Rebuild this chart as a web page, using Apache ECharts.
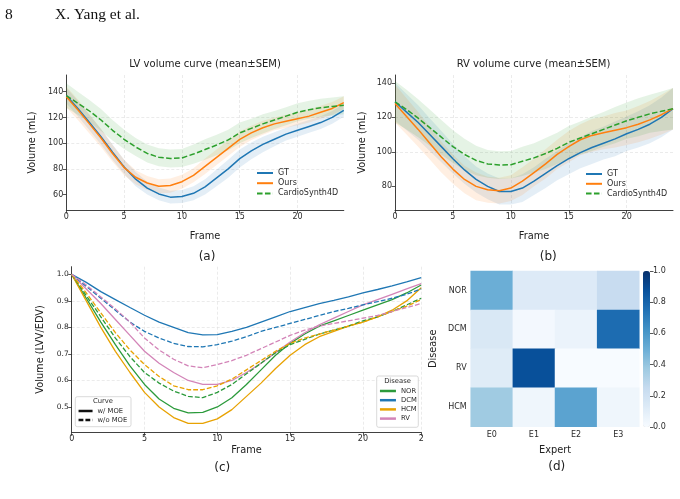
<!DOCTYPE html>
<html>
<head>
<meta charset="utf-8">
<script src="https://cdn.jsdelivr.net/npm/echarts@6/dist/echarts.min.js"></script>
<style>
html, body { margin: 0; padding: 0; background: #fff; }
#fig { width: 680px; height: 499px; }
</style>
</head>
<body>
<div id="fig"></div>
<script>
// frames 0..24
var frames = [0,1,2,3,4,5,6,7,8,9,10,11,12,13,14,15,16,17,18,19,20,21,22,23,24];

// (a) LV volume, mean and SEM
var lvGT        = [137,127,116,105,93,81.5,72,65,60.5,58,58.5,61,66,73,80,88,94,99,103,107,110,113,116,120,125.5];
var lvGTsem     = [6,6,6,6,6,5.5,5.5,5,5,5,5,5.5,6,6.5,7,7,6.5,6,5.5,5,5,5,5,5,5];
var lvOurs      = [136,126,115,104,92,81,73.5,69,66.5,67,70,75,82,89,96,103,108,112,115,117,119,121,124,127,131.5];
var lvOursSem   = [8,8,7.5,7,6.5,6,5.5,5.5,5.5,5.5,5.5,5.5,6,6,6,6,5.5,5.5,5,5,5,5,5,5,5];
var lvCardio    = [137,131,125,118,110,103,97,92,89,88,88.5,91.5,95,98.5,102.5,108,111.5,115,118,121,124,126,127.5,128.5,129.5];
var lvCardioSem = [9.5,9,8.5,8.5,8,7.5,7,7,7,7,7,7.5,8,8,8,8,7.5,7.5,7,7,7,7,7,7,7];

// (b) RV volume, mean and SEM
var rvGT        = [129,123,117,110,103,96,89.5,84,80,77,77,79,83,87.5,92,96,99.5,102.5,105,107.5,110.5,113,116,120,125];
var rvGTsem     = [11,10.5,10,9.5,9,8.5,8,7.5,7.5,7.5,7.5,8,8,8.5,8.5,9,9,9.5,9.5,10,10,10.5,11,11.5,12];
var rvOurs      = [128,120.5,113,105,97,90,84,80,78,77.5,79,83,88,93,98.5,103,107,109.5,111,112.5,114,116,118.5,121.5,125];
var rvOursSem   = [11,10.5,10,9.5,9,8.5,8,8,7.5,7.5,7.5,8,8,8.5,8.5,9,9,9.5,9.5,10,10,10.5,11,11.5,12];
var rvCardio    = [129,124.5,119.5,114,108.5,103,98.5,95,93,92.3,92.5,94.5,96.5,99,102,105.5,108,110.5,113,115.5,118,120,122,123.5,125];
var rvCardioSem = [12,11.5,11,10.5,10,9.5,9,8.5,8,8,8,8.5,8.5,9,9,9.5,9.5,10,10,10.5,10.5,11,11,11.5,12];

// (c) normalised volume per disease, with / without MOE
var norW  = [1.0,0.91,0.82,0.735,0.655,0.585,0.53,0.495,0.478,0.48,0.5,0.535,0.585,0.64,0.695,0.74,0.775,0.805,0.825,0.845,0.865,0.885,0.905,0.93,0.96];
var norWo = [1.0,0.92,0.84,0.76,0.69,0.63,0.59,0.56,0.54,0.535,0.555,0.585,0.625,0.665,0.705,0.735,0.755,0.775,0.79,0.805,0.825,0.84,0.86,0.885,0.91];
var dcmW  = [1.0,0.97,0.935,0.905,0.875,0.846,0.82,0.8,0.78,0.772,0.773,0.785,0.8,0.82,0.84,0.86,0.875,0.89,0.902,0.915,0.93,0.943,0.957,0.972,0.988];
var dcmWo = [1.0,0.955,0.91,0.865,0.82,0.785,0.76,0.74,0.728,0.727,0.735,0.748,0.765,0.785,0.8,0.815,0.83,0.845,0.86,0.872,0.885,0.897,0.91,0.925,0.945];
var hcmW  = [1.0,0.9,0.8,0.71,0.63,0.555,0.5,0.46,0.438,0.438,0.455,0.49,0.54,0.59,0.645,0.695,0.735,0.765,0.785,0.805,0.82,0.84,0.865,0.9,0.95];
var hcmWo = [1.0,0.93,0.855,0.78,0.715,0.66,0.615,0.58,0.565,0.565,0.58,0.605,0.64,0.675,0.71,0.74,0.76,0.775,0.79,0.805,0.82,0.84,0.86,0.88,0.905];
var rvW   = [1.0,0.945,0.89,0.83,0.77,0.71,0.665,0.63,0.6,0.585,0.585,0.6,0.63,0.665,0.705,0.745,0.78,0.81,0.835,0.86,0.885,0.905,0.925,0.945,0.965];
var rvWo  = [1.0,0.96,0.915,0.87,0.82,0.76,0.715,0.68,0.655,0.648,0.66,0.675,0.695,0.72,0.745,0.77,0.79,0.805,0.815,0.825,0.835,0.845,0.86,0.875,0.89];

// (d) expert weights per disease
var experts  = ['E0','E1','E2','E3'];
var diseases = ['NOR','DCM','RV','HCM'];
var weights  = [
    [0.50,0.13,0.13,0.24],
    [0.15,0.02,0.06,0.77],
    [0.12,0.88,0.00,0.00],
    [0.37,0.04,0.55,0.04]
];

// tick labels
var frameTicks  = [0,5,10,15,20];
var frameTicksC = [0,5,10,15,20,24];
var lvTicks     = [60,80,100,120,140];
var rvTicks     = [80,100,120,140];
var ratioTicks  = [0.5,0.6,0.7,0.8,0.9,1.0];

var blues = ['#f7fbff','#deebf7','#c6dbef','#9ecae1','#6baed6','#4292c6','#2171b5','#08519c','#08306b'];
var cBlue = '#1f77b4', cOrange = '#ff7f0e', cGreen = '#2ca02c';
var cNor = '#2b9a3b', cDcm = '#1f77b4', cHcm = '#e8a202', cRv = '#d384b8';
var ink = '#2b2b2b';
var gridCol = '#dedede';
var FONT = 'DejaVu Sans';

// mean ± sem band as two stacked series
function band(key, mean, sem, color, gi) {
    var lo = mean.map(function (v, i) { return v - sem[i]; });
    var wd = sem.map(function (s) { return 2 * s; });
    return [
        { name: key + '_lo', type: 'line', xAxisIndex: gi, yAxisIndex: gi, stack: key, data: lo,
          symbol: 'none', lineStyle: { width: 0, opacity: 0 }, silent: true, z: 1 },
        { name: key + '_hi', type: 'line', xAxisIndex: gi, yAxisIndex: gi, stack: key, data: wd,
          symbol: 'none', lineStyle: { width: 0, opacity: 0 }, areaStyle: { color: color, opacity: 0.12 }, silent: true, z: 1 }
    ];
}

function curve(name, arr, color, gi, dashed, w) {
    return { name: name, type: 'line', xAxisIndex: gi, yAxisIndex: gi, data: arr, symbol: 'none',
             color: color, lineStyle: { color: color, width: w, type: dashed ? [w * 3.7, w * 1.6] : 'solid' }, z: 3 };
}

function xAx(gi, ticks, gap, fmt) {
    var pick = function (i) { return ticks.indexOf(frames[i]) >= 0; };
    return {
        gridIndex: gi, type: 'category', data: frames, boundaryGap: false,
        name: 'Frame', nameLocation: 'middle', nameGap: gap,
        nameTextStyle: { fontSize: 9.8, color: '#222', fontFamily: FONT },
        axisLine: { lineStyle: { color: ink, width: 0.9 } },
        axisTick: { length: 3.5, interval: pick, lineStyle: { color: ink, width: 0.8 } },
        axisLabel: { fontSize: 8, color: ink, margin: 3, interval: pick, formatter: fmt },
        splitLine: { show: true, interval: pick, lineStyle: { color: gridCol, width: 0.6, type: [3, 2] } }
    };
}

function yAx(gi, min, max, ticks, name, gap, fs, fmt) {
    return {
        gridIndex: gi, type: 'value', min: min, max: max,
        name: name, nameLocation: 'middle', nameGap: gap,
        nameTextStyle: { fontSize: 9.8, color: '#222', fontFamily: FONT },
        axisLine: { show: true, lineStyle: { color: ink, width: 0.9 } },
        axisTick: { show: true, length: 3.5, customValues: ticks, lineStyle: { color: ink, width: 0.8 } },
        axisLabel: { fontSize: fs, color: ink, margin: 3, customValues: ticks, formatter: fmt },
        splitLine: { show: true, showMinLine: false, showMaxLine: false, lineStyle: { color: gridCol, width: 0.6, type: [3, 2] } }
    };
}

var series = [];
series = series.concat(band('lvGT', lvGT, lvGTsem, cBlue, 0));
series = series.concat(band('lvOurs', lvOurs, lvOursSem, cOrange, 0));
series = series.concat(band('lvCardio', lvCardio, lvCardioSem, cGreen, 0));
series.push(curve('GT', lvGT, cBlue, 0, false, 1.5));
series.push(curve('Ours', lvOurs, cOrange, 0, false, 1.5));
series.push(curve('CardioSynth4D', lvCardio, cGreen, 0, true, 1.5));

series = series.concat(band('rvGT', rvGT, rvGTsem, cBlue, 1));
series = series.concat(band('rvOurs', rvOurs, rvOursSem, cOrange, 1));
series = series.concat(band('rvCardio', rvCardio, rvCardioSem, cGreen, 1));
series.push(curve('GT', rvGT, cBlue, 1, false, 1.5));
series.push(curve('Ours', rvOurs, cOrange, 1, false, 1.5));
series.push(curve('CardioSynth4D', rvCardio, cGreen, 1, true, 1.5));

series.push(curve('NOR', norW, cNor, 2, false, 1.3));
series.push(curve('DCM', dcmW, cDcm, 2, false, 1.3));
series.push(curve('HCM', hcmW, cHcm, 2, false, 1.3));
series.push(curve('RV', rvW, cRv, 2, false, 1.3));
series.push(curve('NOR w/o MOE', norWo, cNor, 2, true, 1.3));
series.push(curve('DCM w/o MOE', dcmWo, cDcm, 2, true, 1.3));
series.push(curve('HCM w/o MOE', hcmWo, cHcm, 2, true, 1.3));
series.push(curve('RV w/o MOE', rvWo, cRv, 2, true, 1.3));
// legend-only entries for the line style
series.push(curve('w/ MOE', [], '#111', 2, false, 1.3));
series.push(curve('w/o MOE', [], '#111', 2, true, 1.3));

var heatData = [];
for (var r = 0; r < diseases.length; r++) {
    for (var c = 0; c < experts.length; c++) {
        heatData.push([c, r, weights[r][c]]);
    }
}
series.push({ name: 'weights', type: 'heatmap', xAxisIndex: 3, yAxisIndex: 3, data: heatData, itemStyle: { borderWidth: 0 } });
var heatIndex = series.length - 1;

function txt(s, x, y, size, opts) {
    opts = opts || {};
    return { type: 'text', z: opts.z || 10, rotation: opts.rot || 0, style: {
        text: s, x: x, y: y, fill: opts.fill || '#222',
        font: 'normal ' + size + 'px ' + (opts.family || '"DejaVu Sans"'),
        textAlign: opts.align || 'center', textVerticalAlign: 'middle' } };
}

var legendBase = { orient: 'vertical', padding: 0, itemStyle: { opacity: 0 } };
function leg(o) { return Object.assign({}, legendBase, o); }

var chart = echarts.init(document.getElementById('fig'), null, { renderer: 'canvas' });
var option = {
    animation: false,
    backgroundColor: '#fff',
    textStyle: { fontFamily: FONT },
    grid: [
        { left: 66.3, top: 75, width: 277.5, height: 135 },
        { left: 395, top: 75, width: 278, height: 135 },
        { left: 71.7, top: 266.7, width: 349.5, height: 165.6 },
        { left: 470.7, top: 271, width: 168.6, height: 155.7 },
        { left: 643, top: 271, width: 7, height: 156 }
    ],
    xAxis: [
        xAx(0, frameTicks, 21),
        xAx(1, frameTicks, 21),
        xAx(2, frameTicksC, 13, function (v) { return Number(v) === 24 ? '2' : String(v); }),
        { gridIndex: 3, type: 'category', data: experts,
          name: 'Expert', nameLocation: 'middle', nameGap: 19,
          nameTextStyle: { fontSize: 9.8, color: '#222' },
          axisLine: { show: false }, axisTick: { length: 3.5, alignWithLabel: true, lineStyle: { color: ink, width: 0.8 } },
          axisLabel: { fontSize: 8, color: ink, margin: 4 }, splitLine: { show: false } },
        { gridIndex: 4, type: 'category', data: [''], show: false }
    ],
    yAxis: [
        yAx(0, 48, 153, lvTicks, 'Volume (mL)', 29, 8),
        yAx(1, 66.3, 144.5, rvTicks, 'Volume (mL)', 28, 8),
        yAx(2, 0.4045, 1.029, ratioTicks, 'Volume (LVV/EDV)', 21, 7.5, function (v) { return v.toFixed(1); }),
        { gridIndex: 3, type: 'category', data: diseases, inverse: true,
          name: 'Disease', nameLocation: 'middle', nameGap: 32,
          nameTextStyle: { fontSize: 9.8, color: '#222' },
          axisLine: { show: false }, axisTick: { length: 3.5, alignWithLabel: true, lineStyle: { color: ink, width: 0.8 } },
          axisLabel: { fontSize: 8, color: ink, margin: 4 }, splitLine: { show: false } },
        { gridIndex: 4, type: 'value', min: 0, max: 1, interval: 0.2, position: 'right',
          axisLine: { show: false }, axisTick: { show: true, length: 3.5, lineStyle: { color: ink, width: 0.8 } },
          axisLabel: { fontSize: 8, color: ink, margin: 3, formatter: function (v) { return v.toFixed(1); } },
          splitLine: { show: false } }
    ],
    visualMap: {
        type: 'continuous', min: 0, max: 1, seriesIndex: heatIndex, calculable: false,
        inRange: { color: blues }, orient: 'vertical', left: 643, top: 271,
        itemWidth: 7, itemHeight: 156, padding: 0, text: null, showLabel: false, hoverLink: false
    },
    legend: [
        leg({ data: ['GT', 'Ours', 'CardioSynth4D'], left: 256, top: 169,
              itemWidth: 16, itemHeight: 10, itemGap: 2.2, textStyle: { fontSize: 8, color: ink } }),
        leg({ data: ['GT', 'Ours', 'CardioSynth4D'], left: 585, top: 170,
              itemWidth: 16, itemHeight: 10, itemGap: 1.8, textStyle: { fontSize: 8, color: ink } }),
        leg({ data: ['NOR', 'DCM', 'HCM', 'RV'], left: 378.7, top: 387.5, z: 12,
              itemWidth: 16, itemHeight: 8, itemGap: 2.2, lineStyle: { width: 2.5 }, textStyle: { fontSize: 6.8, color: ink } }),
        leg({ data: ['w/ MOE', 'w/o MOE'], left: 77.3, top: 407.5, z: 12,
              itemWidth: 14, itemHeight: 8, itemGap: 2, lineStyle: { width: 2.5 }, textStyle: { fontSize: 6.8, color: ink } })
    ],
    graphic: [
        txt('8', 5, 15, 15.5, { family: '"Liberation Serif"', align: 'left', fill: '#111' }),
        txt('X. Yang et al.', 55, 15, 15.5, { family: '"Liberation Serif"', align: 'left', fill: '#111' }),
        txt('LV volume curve (mean\u00b1SEM)', 205, 64.3, 10),
        txt('RV volume curve (mean\u00b1SEM)', 533.5, 64.3, 10),
        txt('(a)', 207, 256.7, 12),
        txt('(b)', 548.3, 256.7, 12),
        txt('(c)', 222.3, 467.5, 12),
        txt('(d)', 556.7, 466.7, 12),
        { type: 'rect', z: 8, shape: { x: 75.3, y: 396.7, width: 55.7, height: 30, r: 2 },
          style: { fill: 'rgba(255,255,255,0.85)', stroke: '#cfcfcf', lineWidth: 0.8 } },
        txt('Curve', 103, 401.7, 6.8, { fill: ink }),
        { type: 'rect', z: 8, shape: { x: 376.7, y: 376, width: 41.6, height: 51.3, r: 2 },
          style: { fill: 'rgba(255,255,255,0.85)', stroke: '#cfcfcf', lineWidth: 0.8 } },
        txt('Disease', 397.5, 381.7, 6.8, { fill: ink })
    ],
    series: series
};
chart.setOption(option);
</script>
</body>
</html>
